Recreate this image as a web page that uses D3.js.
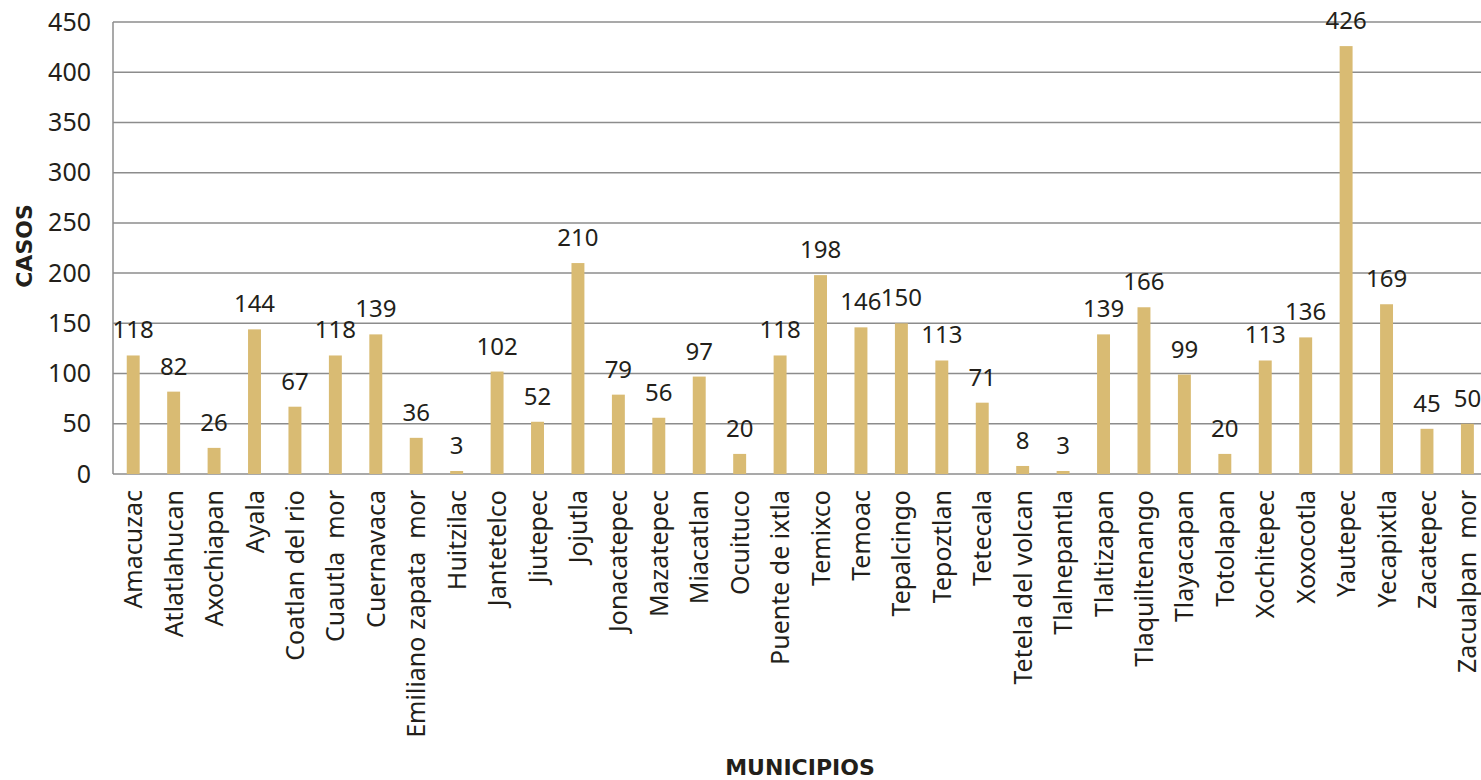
<!DOCTYPE html>
<html>
<head>
<meta charset="utf-8">
<script src="https://cdn.jsdelivr.net/npm/d3@7"></script>
<style>
  body { margin: 0; background: #fff; }
  text { font-family: "Noto Sans", sans-serif; fill: #231f1a; }
  .cat { white-space: pre; }
  .title { font-family: "DejaVu Sans", sans-serif; font-weight: bold; }
</style>
</head>
<body>
<svg id="chart"></svg>
<script>
const municipios = [
  "Amacuzac", "Atlatlahucan", "Axochiapan", "Ayala", "Coatlan del rio",
  "Cuautla  mor", "Cuernavaca", "Emiliano zapata  mor", "Huitzilac", "Jantetelco",
  "Jiutepec", "Jojutla", "Jonacatepec", "Mazatepec", "Miacatlan", "Ocuituco",
  "Puente de ixtla", "Temixco", "Temoac", "Tepalcingo", "Tepoztlan", "Tetecala",
  "Tetela del volcan", "Tlalnepantla", "Tlaltizapan", "Tlaquiltenango",
  "Tlayacapan", "Totolapan", "Xochitepec", "Xoxocotla", "Yautepec",
  "Yecapixtla", "Zacatepec", "Zacualpan  mor"
];
const casos = [
  118, 82, 26, 144, 67, 118, 139, 36, 3, 102, 52, 210, 79, 56, 97, 20,
  118, 198, 146, 150, 113, 71, 8, 3, 139, 166, 99, 20, 113, 136, 426,
  169, 45, 50
];
const yTicks = [0, 50, 100, 150, 200, 250, 300, 350, 400, 450];

const W = 1481, H = 780;
const margin = { top: 22, left: 113, bottom: 306 };
const plotRight = 113 + 34 * 40.43;

const svg = d3.select("#chart").attr("width", W).attr("height", H);

const x = d3.scaleBand()
  .domain(municipios)
  .range([margin.left, plotRight])
  .paddingInner(0.68)
  .paddingOuter(0.34);

const y = d3.scaleLinear()
  .domain([0, 450])
  .range([H - margin.bottom, margin.top]);

// grid lines
svg.append("g")
  .selectAll("line")
  .data(yTicks)
  .enter()
  .append("line")
  .attr("x1", margin.left)
  .attr("x2", W)
  .attr("y1", d => y(d))
  .attr("y2", d => y(d))
  .attr("stroke", "#8c8c8c")
  .attr("stroke-width", 1.5);

// left axis line
svg.append("line")
  .attr("x1", margin.left).attr("x2", margin.left)
  .attr("y1", y(450)).attr("y2", y(0))
  .attr("stroke", "#8c8c8c")
  .attr("stroke-width", 1.5);

// y tick labels
const yAxis = d3.axisLeft(y).tickValues(yTicks).tickSize(0).tickPadding(22);
const yg = svg.append("g")
  .attr("transform", `translate(${margin.left},0)`)
  .call(yAxis);
yg.select(".domain").remove();
yg.selectAll("text")
  .style("font-size", "25px")
  .style("font-family", "'Noto Sans', sans-serif")
  .attr("fill", "#231f1a");

// bars
svg.selectAll(".bar")
  .data(casos)
  .enter()
  .append("rect")
  .attr("class", "bar")
  .attr("x", (d, i) => x(municipios[i]))
  .attr("y", d => y(d))
  .attr("width", x.bandwidth())
  .attr("height", d => y(0) - y(d))
  .attr("fill", "#d9bb73");

// value labels
svg.selectAll(".val")
  .data(casos)
  .enter()
  .append("text")
  .attr("class", "val")
  .attr("x", (d, i) => x(municipios[i]) + x.bandwidth() / 2)
  .attr("y", d => y(d) - 17)
  .attr("text-anchor", "middle")
  .style("font-size", "24px")
  .text(d => d);

// category labels
svg.selectAll(".cat")
  .data(municipios)
  .enter()
  .append("text")
  .attr("class", "cat")
  .attr("transform", d => `translate(${x(d) + x.bandwidth() / 2 + 9},${y(0) + 16}) rotate(-90)`)
  .attr("text-anchor", "end")
  .style("font-size", "25px")
  .text(d => d);

// axis titles
svg.append("text")
  .attr("class", "title")
  .attr("transform", `translate(32,246) rotate(-90)`)
  .attr("text-anchor", "middle")
  .style("font-size", "22px")
  .text("CASOS");

svg.append("text")
  .attr("class", "title")
  .attr("x", 800)
  .attr("y", 775)
  .attr("text-anchor", "middle")
  .style("font-size", "22px")
  .text("MUNICIPIOS");
</script>
</body>
</html>
